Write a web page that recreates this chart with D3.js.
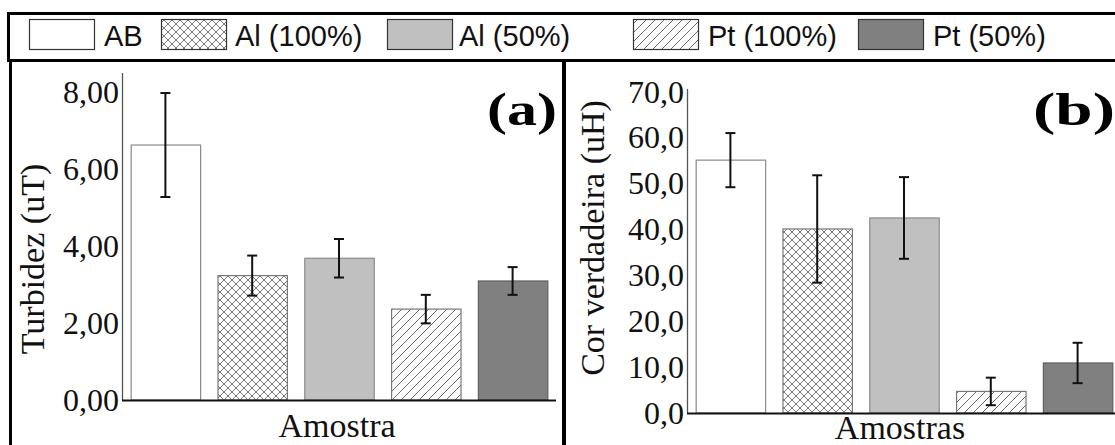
<!DOCTYPE html>
<html>
<head>
<meta charset="utf-8">
<script src="https://cdn.jsdelivr.net/npm/d3@7"></script>
<style>
  html, body { margin: 0; padding: 0; background: #fff; }
  svg { display: block; }
  .serif { font-family: "Liberation Serif", "Times New Roman", serif; }
  .sans { font-family: "Liberation Sans", Arial, sans-serif; }
</style>
</head>
<body>
<script>
// amostras e medias
const samples = ["AB", "Al (100%)", "Al (50%)", "Pt (100%)", "Pt (50%)"];
const turbidez = [6.62, 3.23, 3.68, 2.36, 3.09];
const turbidezErr = [1.35, 0.52, 0.50, 0.37, 0.36];
const cor = [55.1, 40.1, 42.5, 4.7, 10.9];
const corErr = [5.9, 11.7, 8.9, 3.0, 4.4];
const turbidezTicks = [0, 2, 4, 6, 8];
const corTicks = [0, 10, 20, 30, 40, 50, 60, 70];

const W = 1115, H = 445;
const fills = {
  "AB": "#ffffff",
  "Al (100%)": "url(#cross)",
  "Al (50%)": "#c0c0c0",
  "Pt (100%)": "url(#diag)",
  "Pt (50%)": "#808080"
};
const strokes = {
  "AB": "#8a8a8a",
  "Al (100%)": "#777",
  "Al (50%)": "#8a8a8a",
  "Pt (100%)": "#777",
  "Pt (50%)": "#606060"
};

const br = d3.formatLocale({ decimal: ",", thousands: ".", grouping: [3], currency: ["R$", ""] });

const svg = d3.select("body").append("svg").attr("width", W).attr("height", H);
const defs = svg.append("defs");

const cross = defs.append("pattern").attr("id", "cross")
  .attr("patternUnits", "userSpaceOnUse").attr("width", 8).attr("height", 8);
cross.append("rect").attr("width", 8).attr("height", 8).attr("fill", "#fff");
cross.append("path").attr("d", "M0,0L8,8M8,0L0,8")
  .attr("stroke", "#555").attr("stroke-width", 0.8);

const diag = defs.append("pattern").attr("id", "diag")
  .attr("patternUnits", "userSpaceOnUse").attr("width", 9).attr("height", 9);
diag.append("rect").attr("width", 9).attr("height", 9).attr("fill", "#fff");
diag.append("path").attr("d", "M0,9L9,0M-2,2L2,-2M7,11L11,7")
  .attr("stroke", "#444").attr("stroke-width", 0.8);

// legenda
const legendPos = [
  { sw: 29, tx: 104 },
  { sw: 161, tx: 235 },
  { sw: 387, tx: 459 },
  { sw: 633, tx: 708 },
  { sw: 858, tx: 933 }
];
const lg = svg.append("g");
lg.selectAll("rect.sw").data(samples).join("rect")
  .attr("class", "sw")
  .attr("x", (d, i) => legendPos[i].sw + 0.5)
  .attr("y", 19.5)
  .attr("width", 65).attr("height", 30)
  .attr("fill", d => fills[d])
  .attr("stroke", "#333").attr("stroke-width", 1.2);
lg.selectAll("text").data(samples).join("text")
  .attr("class", "sans")
  .attr("x", (d, i) => legendPos[i].tx)
  .attr("y", 46)
  .style("font-size", "29px")
  .attr("fill", "#111")
  .text(d => d);

// molduras
svg.append("rect").attr("x", 8.5).attr("y", 13.5).attr("width", W + 10).attr("height", 47)
  .attr("fill", "none").attr("stroke", "#000").attr("stroke-width", 3);
svg.append("line").attr("x1", 10.5).attr("x2", 10.5).attr("y1", 60).attr("y2", H)
  .attr("stroke", "#000").attr("stroke-width", 3);
svg.append("line").attr("x1", 564).attr("x2", 564).attr("y1", 60).attr("y2", H)
  .attr("stroke", "#000").attr("stroke-width", 4);

function panel(opt) {
  const g = svg.append("g");
  const x = d3.scaleBand().domain(samples).range([opt.x0, opt.x0 + 434])
    .paddingInner(0.2).paddingOuter(0.1);
  const y = d3.scaleLinear().domain([0, opt.ymax]).range([opt.y0, opt.ytop]);

  g.selectAll("rect.bar").data(samples).join("rect")
    .attr("class", "bar")
    .attr("x", d => x(d) + 0.5)
    .attr("y", (d, i) => y(opt.values[i]))
    .attr("width", x.bandwidth())
    .attr("height", (d, i) => y(0) - y(opt.values[i]))
    .attr("fill", d => fills[d])
    .attr("stroke", d => strokes[d]).attr("stroke-width", 1.2);

  const eb = g.selectAll("g.err").data(samples).join("g").attr("class", "err")
    .attr("stroke", "#111").attr("stroke-width", 2);
  const cx = d => x(d) + x.bandwidth() / 2;
  eb.append("line")
    .attr("x1", cx).attr("x2", cx)
    .attr("y1", (d, i) => y(opt.values[i] + opt.errs[i]))
    .attr("y2", (d, i) => y(opt.values[i] - opt.errs[i]));
  eb.append("line")
    .attr("x1", d => cx(d) - 5).attr("x2", d => cx(d) + 5)
    .attr("y1", (d, i) => y(opt.values[i] + opt.errs[i]))
    .attr("y2", (d, i) => y(opt.values[i] + opt.errs[i]));
  eb.append("line")
    .attr("x1", d => cx(d) - 5).attr("x2", d => cx(d) + 5)
    .attr("y1", (d, i) => y(opt.values[i] - opt.errs[i]))
    .attr("y2", (d, i) => y(opt.values[i] - opt.errs[i]));

  const ax = g.append("g").attr("transform", `translate(${opt.x0},0)`)
    .call(d3.axisLeft(y).tickValues(opt.ticks).tickSize(0).tickPadding(3)
      .tickFormat(br.format(opt.fmt)));
  ax.select(".domain").remove();
  ax.selectAll("text").attr("class", "serif").style("font-size", "32px").attr("fill", "#111");
  g.append("line").attr("x1", opt.x0 + 0.5).attr("x2", opt.x0 + 0.5)
    .attr("y1", opt.ytop).attr("y2", opt.y0)
    .attr("stroke", "#555").attr("stroke-width", 1.3);
  g.append("line").attr("x1", opt.x0).attr("x2", opt.xend)
    .attr("y1", opt.y0 + 0.5).attr("y2", opt.y0 + 0.5)
    .attr("stroke", "#111").attr("stroke-width", 1.8);

  g.append("text").attr("class", "serif")
    .attr("transform", `translate(${opt.ylx},${opt.yly}) rotate(-90)`)
    .attr("text-anchor", "middle").attr("dy", "0.35em")
    .style("font-size", "34px").attr("fill", "#111")
    .text(opt.ylabel);
  g.append("text").attr("class", "serif")
    .attr("x", opt.xlx).attr("y", opt.xly)
    .attr("text-anchor", "middle")
    .style("font-size", "34px").attr("fill", "#111")
    .text(opt.xlabel);
  g.append("text").attr("class", "serif")
    .attr("x", opt.tagx).attr("y", 125)
    .attr("textLength", opt.tagw).attr("lengthAdjust", "spacingAndGlyphs")
    .style("font-size", "46px").style("font-weight", "bold").attr("fill", "#000")
    .text(opt.tag);
}

panel({
  x0: 122, y0: 400, ytop: 73, ymax: 8.49, xend: 556,
  values: turbidez, errs: turbidezErr, ticks: turbidezTicks, fmt: ".2f",
  ylabel: "Turbidez (uT)", ylx: 32, yly: 259,
  xlabel: "Amostra", xlx: 337, xly: 437,
  tag: "(a)", tagx: 487, tagw: 70
});
panel({
  x0: 687, y0: 413, ytop: 89, ymax: 70.6, xend: W,
  values: cor, errs: corErr, ticks: corTicks, fmt: ".1f",
  ylabel: "Cor verdadeira (uH)", ylx: 592, yly: 238,
  xlabel: "Amostras", xlx: 900, xly: 439,
  tag: "(b)", tagx: 1033, tagw: 82
});
</script>
</body>
</html>
